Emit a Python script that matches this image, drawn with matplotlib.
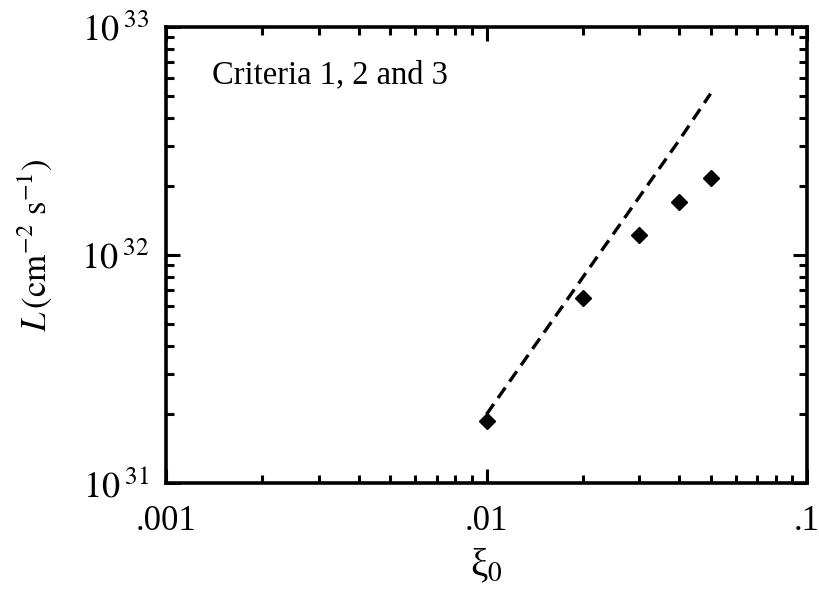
import numpy as np
import matplotlib
matplotlib.use('Agg')
import matplotlib.pyplot as plt
from matplotlib.ticker import LogLocator, FixedLocator, FuncFormatter

plt.rcParams['font.family'] = ['Liberation Serif', 'DejaVu Serif']
plt.rcParams['mathtext.fontset'] = 'stix'

# data
xi0 = [0.01, 0.02, 0.03, 0.04, 0.05]
lum = [1.87e31, 6.5e31, 1.22e32, 1.71e32, 2.18e32]

# dashed curve
xi_line = [0.01, 0.02, 0.03, 0.04, 0.05]
lum_line = [2.0e31, 8.0e31, 1.8e32, 3.2e32, 5.1e32]

xticks = [0.001, 0.01, 0.1]
xticklabels = ['.001', '.01', '.1']
yticks = [1e31, 1e32, 1e33]

fig = plt.figure(figsize=(8.19, 5.89), dpi=100)
ax = fig.add_axes([166/819, 106/589, 641/819, 456/589])

ax.plot(xi_line, lum_line, color='black', lw=2.4, ls=(0, (3.8, 2.2)))
ax.plot(xi0, lum, 'D', color='black', ms=8.5)

ax.set_xscale('log')
ax.set_yscale('log')
ax.set_xlim(0.001, 0.1)
ax.set_ylim(1e31, 1e33)

ax.xaxis.set_major_locator(FixedLocator(xticks))
ax.set_xticklabels(xticklabels)
ax.yaxis.set_major_locator(FixedLocator(yticks))
ax.yaxis.set_major_formatter(FuncFormatter(lambda v, p: r'$10^{\;%d}$' % round(np.log10(v))))
for a in (ax.xaxis, ax.yaxis):
    a.set_minor_locator(LogLocator(base=10, subs=np.arange(2, 10)))
    a.set_minor_formatter(plt.NullFormatter())

ax.tick_params(which='both', direction='in', top=True, right=True, width=2.2,
               labelsize=25)
ax.tick_params(axis='y', labelsize=26)
ax.tick_params(which='major', length=10)
ax.tick_params(axis='x', which='major', pad=16)
ax.tick_params(axis='y', which='major', pad=12)
ax.tick_params(which='minor', length=5.5)
for s in ax.spines.values():
    s.set_linewidth(2.6)

ax.set_xlabel(r'ξ$_0$', fontsize=28)
ax.xaxis.set_label_coords(0.5, -0.14)
ax.set_ylabel(r'$L\,\left(\mathrm{cm}^{-2}\ \mathrm{s}^{-1}\right)$', fontsize=25)
ax.yaxis.set_label_coords(-0.175, 0.522)

ax.text(0.072, 0.895, 'Criteria 1, 2 and 3', transform=ax.transAxes,
        fontsize=23.5, va='center', ha='left')

fig.savefig('out.png', dpi=100)
